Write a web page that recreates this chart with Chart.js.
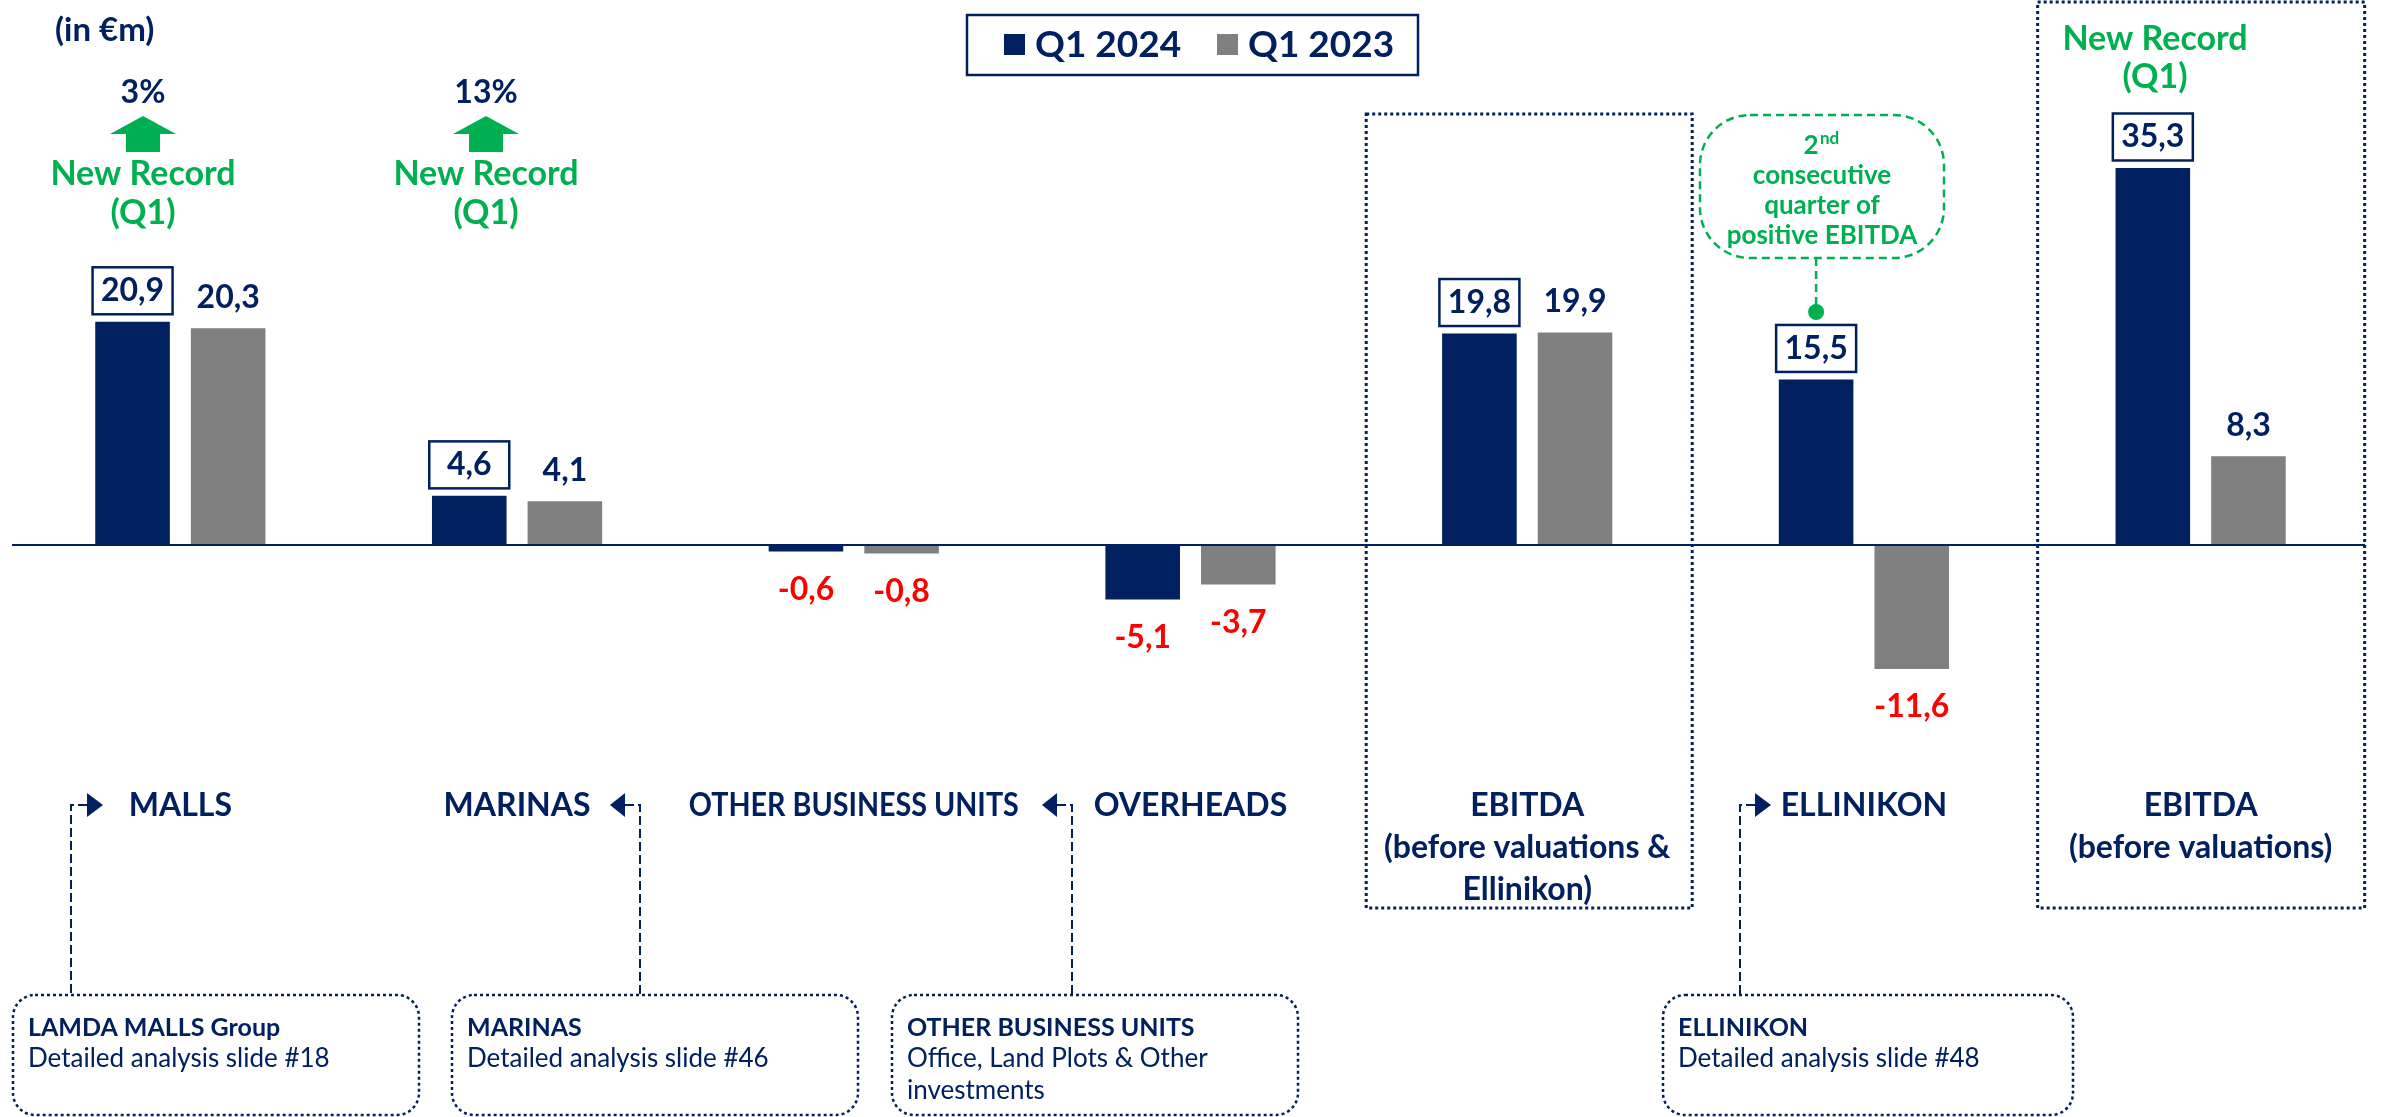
<!DOCTYPE html>
<html>
<head>
<meta charset="utf-8">
<script src="https://cdn.jsdelivr.net/npm/chart.js@4.4.1/dist/chart.umd.min.js"></script>
<style>
  html, body { margin:0; padding:0; background:#fff; }
  #wrap { width:2381px; height:1117px; position:relative; }
</style>
</head>
<body>
<div id="wrap"><canvas id="c" width="2381" height="1117"></canvas></div>
<script>
// data (in €m)
const categories = [
  ["MALLS"],
  ["MARINAS"],
  ["OTHER BUSINESS UNITS"],
  ["OVERHEADS"],
  ["EBITDA", "(before valuations &", "Ellinikon)"],
  ["ELLINIKON"],
  ["EBITDA", "(before valuations)"]
];
const seriesNames = ["Q1 2024", "Q1 2023"];
const q1_2024 = [20.9, 4.6, -0.6, -5.1, 19.8, 15.5, 35.3];
const q1_2023 = [20.3, 4.1, -0.8, -3.7, 19.9, -11.6, 8.3];
const growth = ["3%", "13%"];           // MALLS, MARINAS
const unitNote = "(in €m)";
const calloutLines = ["2nd", "consecutive", "quarter of", "positive EBITDA"];
const detailBoxes = [
  { title:"LAMDA MALLS Group", lines:["Detailed analysis slide #18"] },
  { title:"MARINAS", lines:["Detailed analysis slide #46"] },
  { title:"OTHER BUSINESS UNITS", lines:["Office, Land Plots & Other", "investments"] },
  { title:"ELLINIKON", lines:["Detailed analysis slide #48"] }
];

const NAVY = "#002060", GREY = "#808080", GREEN = "#00B050", RED = "#FF0000";
const FONT = "Lato, 'DejaVu Sans', sans-serif";

function fmt(v){ return v.toFixed(1).replace(".", ","); }

function dotted(ctx, w){ ctx.setLineDash([3,3]); ctx.lineWidth = w || 3; ctx.strokeStyle = NAVY; }

function roundRect(ctx, x, y, w, h, r){
  ctx.beginPath();
  ctx.moveTo(x+r, y);
  ctx.arcTo(x+w, y, x+w, y+h, r);
  ctx.arcTo(x+w, y+h, x, y+h, r);
  ctx.arcTo(x, y+h, x, y, r);
  ctx.arcTo(x, y, x+w, y, r);
  ctx.closePath();
}

function upArrow(ctx, cx, top){
  ctx.fillStyle = GREEN;
  ctx.beginPath();
  ctx.moveTo(cx, top);
  ctx.lineTo(cx+33, top+18);
  ctx.lineTo(cx+17, top+18);
  ctx.lineTo(cx+17, top+36);
  ctx.lineTo(cx-17, top+36);
  ctx.lineTo(cx-17, top+18);
  ctx.lineTo(cx-33, top+18);
  ctx.closePath();
  ctx.fill();
}

function tri(ctx, tipX, baseX, cy){
  ctx.fillStyle = NAVY;
  ctx.beginPath();
  ctx.moveTo(tipX, cy);
  ctx.lineTo(baseX, cy-12);
  ctx.lineTo(baseX, cy+12);
  ctx.closePath();
  ctx.fill();
}

function connector(ctx, pts){
  ctx.save();
  ctx.strokeStyle = NAVY; ctx.lineWidth = 2; ctx.setLineDash([9,4]);
  ctx.beginPath();
  ctx.moveTo(pts[0][0], pts[0][1]);
  for(let i=1;i<pts.length;i++) ctx.lineTo(pts[i][0], pts[i][1]);
  ctx.stroke();
  ctx.restore();
}

const deco = {
  id:"deco",
  afterDatasetsDraw(chart){
    const ctx = chart.ctx;
    const x = chart.scales.x, y = chart.scales.y;
    const y0 = y.getPixelForValue(0);

    // zero line
    ctx.save();
    ctx.strokeStyle = NAVY; ctx.lineWidth = 2;
    ctx.beginPath(); ctx.moveTo(chart.chartArea.left, y0); ctx.lineTo(chart.chartArea.right - 4, y0); ctx.stroke();
    ctx.restore();

    // value labels
    ctx.save();
    ctx.font = "bold 32px " + FONT;
    ctx.textAlign = "center"; ctx.textBaseline = "middle";
    chart.data.datasets.forEach((ds, di) => {
      const meta = chart.getDatasetMeta(di);
      meta.data.forEach((bar, i) => {
        const v = ds.data[i];
        if(v >= 0){
          const cy = bar.y - 31;
          if(di === 0){
            ctx.save();
            ctx.fillStyle = "#fff"; ctx.strokeStyle = NAVY; ctx.lineWidth = 2.5;
            ctx.fillRect(bar.x-40, cy-23.5, 80, 47);
            ctx.strokeRect(bar.x-40, cy-23.5, 80, 47);
            ctx.restore();
          }
          ctx.fillStyle = NAVY;
          ctx.fillText(fmt(v), bar.x, cy);
        } else {
          ctx.fillStyle = RED;
          ctx.fillText(fmt(v), bar.x, bar.y + 38);
        }
      });
    });
    ctx.restore();

    // category labels
    ctx.save();
    ctx.font = "bold 32px " + FONT;
    ctx.fillStyle = NAVY; ctx.textAlign = "center"; ctx.textBaseline = "middle";
    categories.forEach((lines, i) => {
      const cx = x.getPixelForValue(i);
      lines.forEach((t, k) => ctx.fillText(t, cx, 806 + k*42, 330));
    });
    ctx.restore();

    // dotted frames around the EBITDA groups
    ctx.save();
    dotted(ctx, 3);
    const e1 = x.getPixelForValue(4), e2 = x.getPixelForValue(6);
    ctx.strokeRect(e1-161, 114, 326, 794);
    ctx.strokeRect(e2-163, 2, 327, 906);
    ctx.restore();

    // unit note
    ctx.save();
    ctx.font = "bold 33px " + FONT; ctx.fillStyle = NAVY;
    ctx.textAlign = "left"; ctx.textBaseline = "middle";
    ctx.fillText(unitNote, 55, 30);
    ctx.restore();

    // growth arrows + New Record
    ctx.save();
    ctx.textAlign = "center"; ctx.textBaseline = "middle";
    [143, 486].forEach((cx, k) => {
      ctx.font = "bold 32px " + FONT; ctx.fillStyle = NAVY;
      ctx.fillText(growth[k], cx, 93);
      upArrow(ctx, cx, 116);
      ctx.font = "bold 34px " + FONT; ctx.fillStyle = GREEN;
      ctx.fillText("New Record", cx, 174);
      ctx.fillText("(Q1)", cx, 213);
    });
    ctx.font = "bold 34px " + FONT; ctx.fillStyle = GREEN;
    ctx.fillText("New Record", 2155, 39);
    ctx.fillText("(Q1)", 2155, 77);
    ctx.restore();

    // legend
    ctx.save();
    ctx.strokeStyle = NAVY; ctx.lineWidth = 2.5;
    ctx.strokeRect(967, 15, 451, 60);
    ctx.font = "bold 37px " + FONT; ctx.textBaseline = "middle"; ctx.textAlign = "left";
    const lx = [1004, 1217];
    chart.data.datasets.forEach((ds, di) => {
      ctx.fillStyle = ds.backgroundColor;
      ctx.fillRect(lx[di], 34, 21, 21);
      ctx.fillStyle = NAVY;
      ctx.fillText(ds.label, lx[di] + 31, 45);
    });
    ctx.restore();

    // green callout
    ctx.save();
    ctx.strokeStyle = GREEN; ctx.lineWidth = 2.5; ctx.setLineDash([8,5]);
    roundRect(ctx, 1700, 115, 244, 143, 50);
    ctx.stroke();
    const ex = chart.getDatasetMeta(0).data[5].x;
    ctx.beginPath(); ctx.moveTo(ex, 258); ctx.lineTo(ex, 306); ctx.stroke();
    ctx.setLineDash([]);
    ctx.fillStyle = GREEN;
    ctx.beginPath(); ctx.arc(ex, 312, 8, 0, Math.PI*2); ctx.fill();
    ctx.font = "bold 26px " + FONT; ctx.textAlign = "center"; ctx.textBaseline = "middle";
    const cc = 1822;
    ctx.fillText("2", cc - 11, 146);
    ctx.font = "bold 17px " + FONT; ctx.textAlign = "left";
    ctx.fillText("nd", cc - 2, 139);
    ctx.font = "bold 26px " + FONT; ctx.textAlign = "center";
    for(let k=1;k<calloutLines.length;k++) ctx.fillText(calloutLines[k], cc, 146 + k*30);
    ctx.restore();

    // connectors + arrow heads
    connector(ctx, [[87,805],[71,805],[71,995]]);
    tri(ctx, 103, 87, 805);
    connector(ctx, [[625,805],[640,805],[640,995]]);
    tri(ctx, 610, 625, 805);
    connector(ctx, [[1057,805],[1072,805],[1072,995]]);
    tri(ctx, 1042, 1057, 805);
    connector(ctx, [[1755,805],[1740,805],[1740,995]]);
    tri(ctx, 1771, 1755, 805);

    // detail boxes
    const bx = [13, 452, 892, 1663];
    const bw = [406, 406, 406, 410];
    ctx.save();
    detailBoxes.forEach((b, k) => {
      ctx.save();
      dotted(ctx, 2.5);
      roundRect(ctx, bx[k], 995, bw[k], 120, 22);
      ctx.fillStyle = "#fff"; ctx.fill();
      ctx.stroke();
      ctx.restore();
      ctx.fillStyle = NAVY; ctx.textAlign = "left"; ctx.textBaseline = "middle";
      ctx.font = "bold 25px " + FONT;
      ctx.fillText(b.title, bx[k] + 15, 1028);
      ctx.font = "26px " + FONT;
      b.lines.forEach((t, j) => ctx.fillText(t, bx[k] + 15, 1059 + j*32));
    });
    ctx.restore();
  }
};

new Chart(document.getElementById("c"), {
  type:"bar",
  data:{
    labels: categories,
    datasets:[
      { label: seriesNames[0], data: q1_2024, backgroundColor: NAVY },
      { label: seriesNames[1], data: q1_2023, backgroundColor: GREY }
    ]
  },
  options:{
    responsive:false,
    animation:false,
    devicePixelRatio:1,
    layout:{ padding:{ left:12, right:12, top:0, bottom:0 } },
    datasets:{ bar:{ categoryPercentage:0.568, barPercentage:0.78 } },
    plugins:{ legend:{ display:false }, tooltip:{ enabled:false } },
    scales:{
      x:{ display:false },
      y:{ display:false, min:-53.56, max:51.03 }
    }
  },
  plugins:[deco]
});
</script>
</body>
</html>
